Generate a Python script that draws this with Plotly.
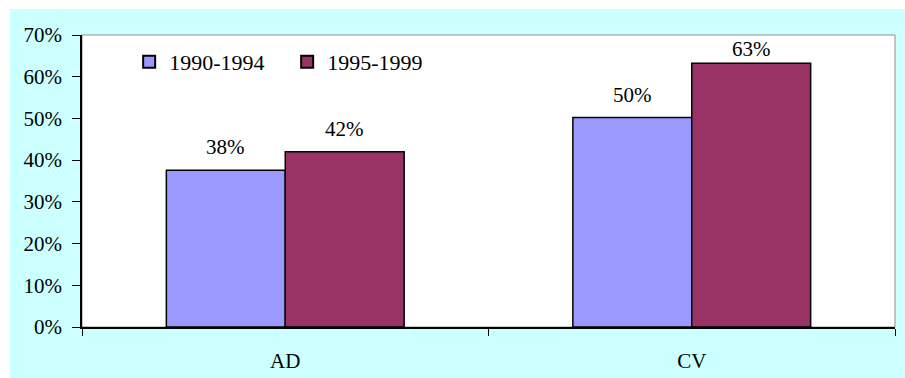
import plotly.graph_objects as go

categories = ["AD", "CV"]
series_names = ["1990-1994", "1995-1999"]
values_1990 = [37.6, 50.2]
values_1995 = [42.0, 63.2]
labels_1990 = ["38%", "50%"]
labels_1995 = ["42%", "63%"]
y_ticks = [0, 10, 20, 30, 40, 50, 60, 70]
y_ticklabels = ["0%", "10%", "20%", "30%", "40%", "50%", "60%", "70%"]
colors = ["#9999FF", "#993366"]

FONT = "Liberation Serif"
FS = 21
W, H = 905, 378
L, R, T, B = 82, 10, 35, 51
pw, ph = W - L - R, H - T - B
YMAX = 70

fig = go.Figure()
fig.add_trace(go.Bar(x=categories, y=values_1990, name=series_names[0],
                     marker=dict(color=colors[0], line=dict(color="black", width=1.5))))
fig.add_trace(go.Bar(x=categories, y=values_1995, name=series_names[1],
                     marker=dict(color=colors[1], line=dict(color="black", width=1.5))))

# data labels (kept inside the plot area near the top, like the original)
for i, cat in enumerate(categories):
    for j, (v, lab) in enumerate([(values_1990[i], labels_1990[i]), (values_1995[i], labels_1995[i])]):
        bar_px = T + ph * (1 - v / YMAX)
        default_center = bar_px - 22
        center = max(default_center, T + 15)
        shift = 9 - (center - default_center)
        fig.add_annotation(x=i + (-0.1462 if j == 0 else 0.1462), y=v, xref="x", yref="y",
                           text=lab, showarrow=False, yanchor="bottom", yshift=shift,
                           font=dict(family=FONT, size=FS, color="black"))

# background: cyan panel, white plot area with gray frame
fig.add_shape(type="rect", xref="paper", yref="paper", layer="below",
              x0=(10 - L) / pw, x1=(W - L) / pw, y0=-B / ph, y1=(ph + T - 9) / ph,
              fillcolor="#CCFFFF", line=dict(width=0))
fig.add_shape(type="rect", xref="paper", yref="paper", layer="below",
              x0=0, x1=1, y0=0, y1=1, fillcolor="white", line=dict(color="#909090", width=1))

fig.update_layout(
    width=W, height=H,
    margin=dict(l=L, r=R, t=T, b=B),
    paper_bgcolor="white", plot_bgcolor="rgba(0,0,0,0)",
    barmode="group", bargap=0.415, bargroupgap=0,
    font=dict(family=FONT, size=FS, color="black"),
    showlegend=True,
    legend=dict(orientation="h", x=0.058, xanchor="left", y=0.9075, yanchor="middle",
                bgcolor="rgba(0,0,0,0)", font=dict(family=FONT, size=22, color="black"),
                entrywidth=113, entrywidthmode="pixels", itemsizing="constant"),
)
fig.update_xaxes(showline=True, linecolor="black", linewidth=1.5, ticks="outside",
                 tickson="boundaries", ticklen=7, tickcolor="black", tickwidth=1,
                 ticklabelstandoff=14, automargin=False,
                 showgrid=False, tickfont=dict(family=FONT, size=FS))
fig.update_yaxes(range=[0, YMAX], tickvals=y_ticks, ticktext=y_ticklabels, showline=True,
                 linecolor="black", linewidth=1.5, ticks="outside", ticklen=8,
                 tickcolor="black", tickwidth=1, showgrid=False, zeroline=False,
                 ticklabelstandoff=6, automargin=False,
                 tickfont=dict(family=FONT, size=FS))

fig.write_html("out.html")
